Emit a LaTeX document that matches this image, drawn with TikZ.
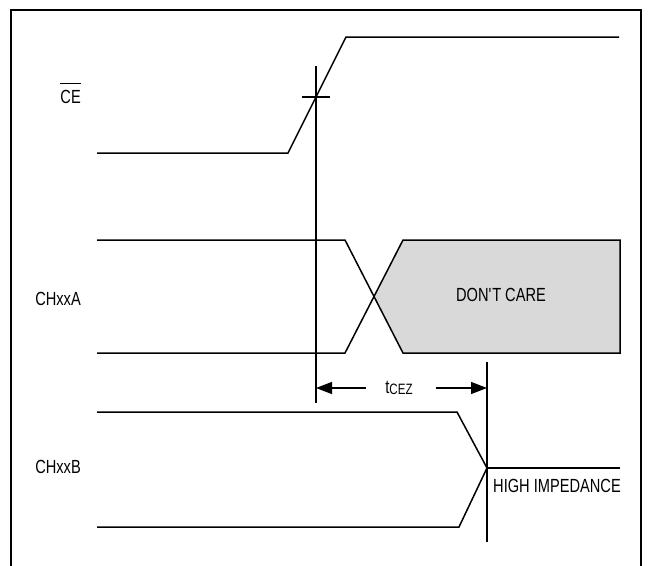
\documentclass[tikz,border=0pt]{standalone}
\usepackage{fontspec}
\setmainfont{Liberation Sans}[FakeStretch=0.77]
\definecolor{caregray}{RGB}{217, 217, 217}
\usetikzlibrary{arrows.meta, positioning, calc}
\newcommand{\sigbar}[1]{\setbox0\hbox{#1}\rlap{\rule[19pt]{\wd0}{0.9pt}}\box0}

\begin{document}
\begin{tikzpicture}[x=1pt, y=-1pt,
  wave/.style={line width=1.5pt, line join=miter},
  marker/.style={line width=1.2pt},
  sigfont/.style={font=\fontsize{19}{21}\selectfont, inner sep=0pt},
  siglabel/.style={sigfont, anchor=base east},
  timearrow/.style={line width=1.2pt, -{Triangle[length=16pt, width=12pt]}}]
  \useasboundingbox (0,0) rectangle (650,565);

  % Frame, open at the bottom
  \coordinate (fbl) at (11,570);
  \coordinate (ftl) at (11,10);
  \coordinate (ftr) at (641,10);
  \coordinate (fbr) at (641,570);
  \draw[line width=2pt] (fbl) -- (ftl) -- (ftr) -- (fbr);

  % Signal names
  \node[siglabel] (celabel) at (81,103) {\sigbar{CE}};
  \node[siglabel] (alabel) at (81,305) {CHxxA};
  \node[siglabel] (blabel) at (81,473) {CHxxB};

  % CE waveform
  \coordinate (ce0) at (97,153);
  \coordinate (ce1) at (288,153);
  \coordinate (ce2) at (346,37);
  \coordinate (ce3) at (619,37);
  \draw[wave] (ce0) -- (ce1) -- (ce2) -- (ce3);

  % CE reference mark
  \coordinate (cemark) at (316,97);
  \coordinate (cetickl) at (302,97);
  \coordinate (cetickr) at (330,97);
  \coordinate (cetop) at (316,66);
  \coordinate (cebot) at (316,403);
  \draw[marker] (cetickl) -- (cetickr);
  \draw[marker] (cetop) -- (cebot);

  % CHxxA waveform
  \coordinate (a0) at (97,240);
  \coordinate (a1) at (345,240);
  \coordinate (a2) at (403,353);
  \coordinate (a3) at (97,353);
  \coordinate (a4) at (345,353);
  \coordinate (a5) at (403,240);
  \coordinate (across) at (374,296.5);
  \coordinate (a6) at (620,240);
  \coordinate (a7) at (620,353);
  \fill[caregray] (across) -- (a5) -- (a6) -- (a7) -- (a2) -- cycle;
  \draw[wave] (a0) -- (a1) -- (a2) -- (a7) -- (a6) -- (a5) -- (a4) -- (a3);
  \node[sigfont, anchor=base] (dontcare) at (501,301) {DON\textquotesingle T CARE};

  % CHxxB waveform
  \coordinate (b0) at (97,412);
  \coordinate (b1) at (457,412);
  \coordinate (bz) at (487,468);
  \coordinate (b2) at (459,527);
  \coordinate (b3) at (97,527);
  \coordinate (b4) at (620,468);
  \draw[wave] (b0) -- (b1) -- (bz) -- (b2) -- (b3);
  \draw[wave] (bz) -- (b4);
  \node[sigfont, anchor=base west] (hiz) at (493,492) {HIGH IMPEDANCE};

  % tCEZ mark and arrows
  \coordinate (ztop) at (487,362);
  \coordinate (zbot) at (487,542);
  \draw[marker] (ztop) -- (zbot);
  \node[sigfont, anchor=base] (tcez) at (399,393)
    {t\raisebox{-1pt}{\fontsize{15}{17}\selectfont CEZ}};
  \coordinate (tzl) at (366,388);
  \coordinate (tzr) at (436,388);
  \draw[timearrow] (tzl) -- (tzl -| cemark);
  \draw[timearrow] (tzr) -- (tzr -| ztop);
\end{tikzpicture}
\end{document}
